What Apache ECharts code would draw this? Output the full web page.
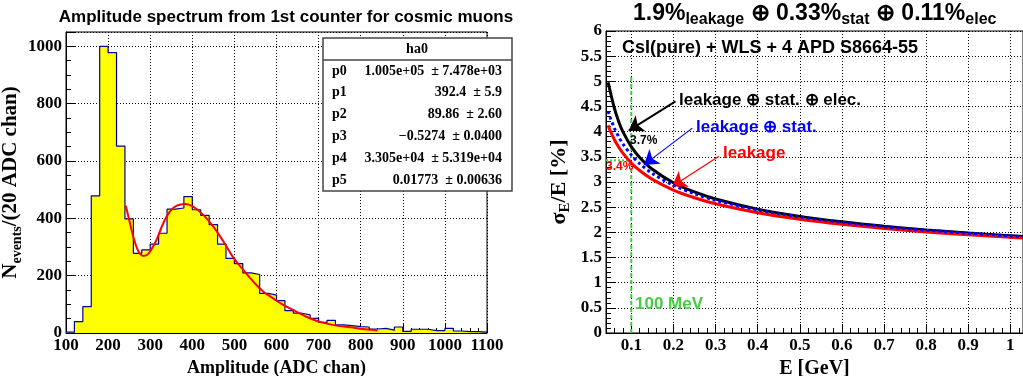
<!DOCTYPE html>
<html>
<head>
<meta charset="utf-8">
<script src="https://cdn.jsdelivr.net/npm/echarts@6/dist/echarts.min.js"></script>
<style>
  html, body { margin: 0; padding: 0; background: #fff; }
  #main { width: 1023px; height: 376px; }
</style>
</head>
<body>
<div id="main"></div>
<script>
// ---- left panel: amplitude histogram (20 ADC chan bins from 100) ----
var binStart = 100;
var binWidth = 20;
var counts = [3, 40, 92, 478, 1000, 978, 652, 398, 278, 290,
              310, 348, 432, 436, 476, 430, 410, 378, 310, 260,
              242, 210, 204, 138, 132, 113, 78, 69, 63, 51,
              37, 44, 28, 26, 22, 21, 14, 16, 10, 21,
              6, 13, 13, 8, 8, 16, 7, 5, 5, 3];
// fit curve
var fitX = [242, 250, 260, 268, 276, 284, 292, 300, 315, 331, 347, 363, 383, 402, 426, 450,
            474, 497, 521, 545, 569, 592, 616, 648, 675, 700, 725, 750, 775, 800, 825, 840];
var fitY = [444, 395, 335, 298, 276, 269, 272, 285, 325, 383, 424, 444, 450, 441, 412, 371,
            319, 264, 220, 179, 144, 121, 98, 74, 54, 40, 31, 24, 20, 15, 11, 9];
var statNames = ['p0', 'p1', 'p2', 'p3', 'p4', 'p5'];
var statVals = ['1.005e+05', '392.4', '89.86', '\u22120.5274', '3.305e+04', '0.01773'];
var statErrs = ['7.478e+03', '5.9', '2.60', '0.0400', '5.319e+04', '0.00636'];

// ---- right panel: energy resolution vs E ----
var energy = [0.045, 0.05, 0.06, 0.07, 0.08, 0.1, 0.12, 0.15, 0.2, 0.25,
              0.3, 0.4, 0.5, 0.6, 0.7, 0.8, 0.9, 1.0, 1.03];
var resLeak = [4.125, 4.018, 3.839, 3.694, 3.573, 3.379, 3.228, 3.053, 2.841, 2.687,
               2.567, 2.389, 2.259, 2.159, 2.077, 2.009, 1.951, 1.900, 1.886];
var resLeakStat = [4.409, 4.281, 4.068, 3.899, 3.759, 3.537, 3.366, 3.170, 2.935, 2.767,
                   2.637, 2.445, 2.307, 2.200, 2.114, 2.043, 1.982, 1.928, 1.914];
var resTotal = [4.98, 4.80, 4.462, 4.204, 4.002, 3.704, 3.488, 3.253, 2.986, 2.802,
                2.662, 2.461, 2.317, 2.208, 2.120, 2.047, 1.985, 1.932, 1.917];
var mevLine = [[0.1, 0], [0.1, 5.1]];
var mevLevel = [[0.04, 3.43], [0.1, 3.43]];

var serif = '"Liberation Serif", "Times New Roman", serif';
var sans = '"Liberation Sans", Arial, sans-serif';

var histData = counts.map(function (c, i) { return [binStart + i * binWidth, c]; });
histData.push([binStart + counts.length * binWidth, counts[counts.length - 1]]);
var fitData = fitX.map(function (x, i) { return [x, fitY[i]]; });
function pairs(ys) { return energy.map(function (e, i) { return [e, ys[i]]; }); }

var tickLabel = { color: '#000', fontFamily: serif, fontWeight: 'bold', fontSize: 17, margin: 4 };
var gridLine = { show: true, lineStyle: { color: '#000', width: 1, type: [1, 2] } };

function valAxis(gi, o) {
  var a = {
    type: 'value', gridIndex: gi,
    axisLine: { show: true, onZero: false, lineStyle: { color: '#000', width: 1 } },
    axisTick: { show: true, inside: true, length: 9, lineStyle: { color: '#000' } },
    minorTick: { show: true, length: 5, lineStyle: { color: '#000' } },
    splitLine: gridLine,
    axisLabel: Object.assign({}, tickLabel, { formatter: function (v) { return String(+v.toFixed(3)); } }),
    nameLocation: 'middle'
  };
  return Object.assign(a, o);
}

var graphics = [
  { type: 'text', x: 286, y: 17, style: { text: 'Amplitude spectrum from 1st counter for cosmic muons',
    font: 'bold 17px ' + sans, fill: '#000', align: 'center', verticalAlign: 'middle' } },
  { type: 'rect', shape: { x: 323, y: 38, width: 189, height: 153 },
    style: { fill: '#fff', stroke: '#444', lineWidth: 1.5 }, z: 10 },
  { type: 'line', shape: { x1: 323, y1: 60, x2: 512, y2: 60 }, style: { stroke: '#444', lineWidth: 1.5 }, z: 11 },
  { type: 'text', x: 417, y: 49, z: 11, style: { text: 'ha0', font: 'bold 14px ' + serif, fill: '#000',
    align: 'center', verticalAlign: 'middle' } },
  // right panel texts
  { type: 'text', x: 633, y: 2, z: 11, style: {
    text: '{b|1.9%}{s|leakage}{b| \u2295 0.33%}{s|stat}{b| \u2295 0.11%}{s|elec}',
    rich: {
      b: { font: 'bold 23px ' + sans, fill: '#000', lineHeight: 22, verticalAlign: 'top' },
      s: { font: 'bold 16px ' + sans, fill: '#000', lineHeight: 16, padding: [10, 0, 0, 0], verticalAlign: 'top' }
    } } },
  { type: 'text', x: 622, y: 48, z: 11, style: { text: 'CsI(pure) + WLS + 4 APD S8664-55',
    font: 'bold 18px ' + sans, fill: '#000', verticalAlign: 'middle' } },
  { type: 'text', x: 679, y: 100, z: 11, style: { text: 'leakage \u2295 stat. \u2295 elec.',
    font: 'bold 17px ' + sans, fill: '#000', verticalAlign: 'middle' } },
  { type: 'text', x: 696, y: 127, z: 11, style: { text: 'leakage \u2295 stat.',
    font: 'bold 17px ' + sans, fill: '#0000ff', verticalAlign: 'middle' } },
  { type: 'text', x: 723, y: 153, z: 11, style: { text: 'leakage',
    font: 'bold 17px ' + sans, fill: '#ff0000', verticalAlign: 'middle' } },
  { type: 'text', x: 630, y: 141, z: 11, style: { text: '3.7%',
    font: 'bold 12px ' + sans, fill: '#000', verticalAlign: 'middle' } },
  { type: 'text', x: 606, y: 167, z: 11, style: { text: '3.4%',
    font: 'bold 12px ' + sans, fill: '#ff0000', verticalAlign: 'middle' } },
  { type: 'text', x: 635, y: 304, z: 11, style: { text: '100 MeV',
    font: 'bold 17px ' + sans, fill: '#44cc44', verticalAlign: 'middle' } }
];
statNames.forEach(function (n, i) {
  var y = 71 + i * 21.8;
  graphics.push({ type: 'text', x: 332, y: y, z: 11, style: { text: n, font: 'bold 14px ' + serif,
    fill: '#000', verticalAlign: 'middle' } });
  graphics.push({ type: 'text', x: 502, y: y, z: 11, style: { text: statVals[i] + '  \u00b1 ' + statErrs[i],
    font: 'bold 14px ' + serif, fill: '#000', align: 'right', verticalAlign: 'middle' } });
});

function arrow(from, to, color, width) {
  return {
    silent: true, symbol: ['none', 'arrow'], symbolSize: 14, label: { show: false },
    lineStyle: { color: color, width: width, type: 'solid' },
    data: [[{ coord: from }, { coord: to }]]
  };
}

var option = {
  animation: false,
  backgroundColor: '#fff',
  grid: [
    { left: 66, top: 32, width: 421, height: 301, show: true, borderColor: '#000', borderWidth: 1,
      backgroundColor: 'transparent', outerBoundsMode: 'none', containLabel: false },
    { left: 606, top: 31, width: 417, height: 302, show: true, borderColor: '#000', borderWidth: 1,
      backgroundColor: 'transparent', outerBoundsMode: 'none', containLabel: false }
  ],
  xAxis: [
    valAxis(0, { min: 100, max: 1100, interval: 100, minorTick: { show: true, splitNumber: 5, length: 5, lineStyle: { color: '#000' } },
      name: 'Amplitude (ADC chan)', nameGap: 17,
      nameTextStyle: { color: '#000', fontFamily: serif, fontWeight: 'bold', fontSize: 18 } }),
    valAxis(1, { min: 0.04, max: 1.03, splitNumber: 10,
      minorTick: { show: true, splitNumber: 5, length: 5, lineStyle: { color: '#000' } },
      axisLabel: Object.assign({}, tickLabel, { showMinLabel: false, showMaxLabel: false,
        formatter: function (v) { return String(+v.toFixed(2)); } }),
      name: 'E [GeV]', nameGap: 18,
      nameTextStyle: { color: '#000', fontFamily: serif, fontWeight: 'bold', fontSize: 20 } })
  ],
  yAxis: [
    valAxis(0, { min: 0, max: 1050, interval: 200,
      minorTick: { show: true, splitNumber: 4, length: 5, lineStyle: { color: '#000' } },
      axisLabel: Object.assign({}, tickLabel, { showMaxLabel: false, formatter: function (v) { return String(v); } }),
      name: '{n|N}{s|events}{n|/(20 ADC chan)}', nameGap: 34,
      nameTextStyle: { color: '#000', rich: {
        n: { fontFamily: serif, fontWeight: 'bold', fontSize: 21, lineHeight: 21, verticalAlign: 'top', color: '#000' },
        s: { fontFamily: serif, fontWeight: 'bold', fontSize: 14, lineHeight: 14, padding: [10, 0, 0, 0], verticalAlign: 'top', color: '#000' }
      } } }),
    valAxis(1, { min: 0, max: 6, interval: 0.5,
      minorTick: { show: true, splitNumber: 5, length: 5, lineStyle: { color: '#000' } },
      name: '{n|\u03c3}{s|E}{n|/E [%]}', nameGap: 36,
      nameTextStyle: { color: '#000', rich: {
        n: { fontFamily: serif, fontWeight: 'bold', fontSize: 22, lineHeight: 22, verticalAlign: 'top', color: '#000' },
        s: { fontFamily: serif, fontWeight: 'bold', fontSize: 15, lineHeight: 15, padding: [10, 0, 0, 0], verticalAlign: 'top', color: '#000' }
      } } })
  ],
  series: [
    { type: 'line', xAxisIndex: 0, yAxisIndex: 0, data: histData, step: 'end', symbol: 'none',
      lineStyle: { color: '#000099', width: 1.2 }, areaStyle: { color: '#ffff00', opacity: 1 }, z: 2 },
    { type: 'line', xAxisIndex: 0, yAxisIndex: 0, data: fitData, smooth: 0.4, symbol: 'none',
      lineStyle: { color: '#ff0000', width: 2 }, z: 3 },
    { type: 'line', xAxisIndex: 1, yAxisIndex: 1, data: mevLine, symbol: 'none',
      lineStyle: { color: '#44cc44', width: 2, type: [4, 3] }, z: 2 },
    { type: 'line', xAxisIndex: 1, yAxisIndex: 1, data: mevLevel, symbol: 'none',
      lineStyle: { color: '#44cc44', width: 2, type: [2, 2] }, z: 2 },
    { type: 'line', xAxisIndex: 1, yAxisIndex: 1, data: pairs(resTotal), smooth: 0.3, symbol: 'none',
      lineStyle: { color: '#000', width: 3 }, z: 3,
      markLine: arrow([0.205, 4.60], [0.094, 4.02], '#000', 2) },
    { type: 'line', xAxisIndex: 1, yAxisIndex: 1, data: pairs(resLeak), smooth: 0.3, symbol: 'none',
      lineStyle: { color: '#ff0000', width: 3 }, z: 4,
      markLine: arrow([0.308, 3.51], [0.197, 2.91], '#ff0000', 1.2) },
    { type: 'line', xAxisIndex: 1, yAxisIndex: 1, data: pairs(resLeakStat), smooth: 0.3, symbol: 'none',
      lineStyle: { color: '#0000ff', width: 3, type: [3, 3] }, z: 5,
      markLine: arrow([0.245, 4.07], [0.130, 3.34], '#0000ff', 1.2) }
  ],
  graphic: graphics
};

var chart = echarts.init(document.getElementById('main'));
chart.setOption(option);
</script>
</body>
</html>
